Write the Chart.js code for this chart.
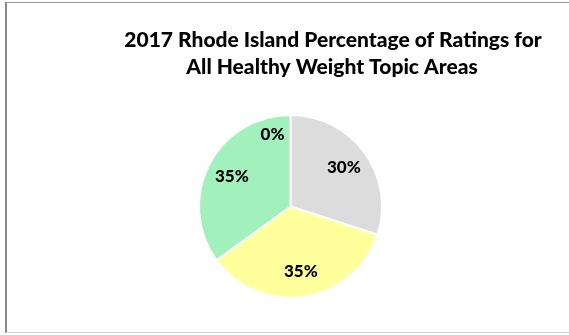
<!DOCTYPE html>
<html>
<head>
<meta charset="utf-8">
<script src="https://cdn.jsdelivr.net/npm/chart.js@4"></script>
<style>
  html, body { margin: 0; padding: 0; background: #fff; overflow: hidden; }
  body { width: 569px; height: 335px; position: relative; }
  #frame { position: absolute; left: 5px; top: 2px; width: 564px; height: 331px;
           border-left: 2px solid #8a8a8a; border-top: 1px solid #9a9a9a; border-bottom: 1px solid #d6d6d6; border-right: none; box-sizing: border-box; }
  #wrap { position: absolute; left: 0; top: 0; width: 569px; height: 335px; }
</style>
</head>
<body>
<div id="frame"></div>
<div id="wrap"><canvas id="c" width="569" height="335"></canvas></div>
<script>
const titleLines = ["2017 Rhode Island Percentage of Ratings for", "All Healthy Weight Topic Areas"];
const categories = ["Rating A", "Rating B", "Rating C", "Rating D"];
const values = [30, 35, 35, 0];
const sliceColors = ["#DCDCDC", "#FFFF9B", "#A2F0BC", "#C9C9C9"];

const titlePlugin = {
  id: 'manualTitle',
  afterDraw(chart) {
    const ctx = chart.ctx;
    ctx.save();
    ctx.fillStyle = '#000';
    ctx.font = '900 21px Lato';
    ctx.textAlign = 'center';
    ctx.textBaseline = 'alphabetic';
    ctx.fillText(titleLines[0], 333, 47);
    ctx.fillText(titleLines[1], 332, 74);
    ctx.restore();
  }
};

const labelPlugin = {
  id: 'sliceLabels',
  afterDatasetsDraw(chart) {
    const ctx = chart.ctx;
    const meta = chart.getDatasetMeta(0);
    const data = chart.data.datasets[0].data;
    const total = data.reduce((a, b) => a + b, 0);
    ctx.save();
    ctx.fillStyle = '#000';
    ctx.font = '900 17px Lato';
    ctx.textBaseline = 'middle';
    meta.data.forEach((arc, i) => {
      const p = arc.getProps(['x', 'y', 'startAngle', 'endAngle', 'outerRadius'], true);
      const mid = (p.startAngle + p.endAngle) / 2;
      const r = p.outerRadius * 0.72;
      const x = p.x + Math.cos(mid) * r;
      const y = p.y + Math.sin(mid) * r;
      const txt = Math.round(data[i] / total * 100) + '%';
      if (data[i] === 0) {
        ctx.textAlign = 'right';
        ctx.fillText(txt, x - 6, y - 6);
      } else {
        ctx.textAlign = 'center';
        ctx.fillText(txt, x, y);
      }
    });
    ctx.restore();
  }
};

new Chart(document.getElementById('c'), {
  type: 'pie',
  data: {
    labels: categories,
    datasets: [{
      data: values,
      backgroundColor: sliceColors,
      borderColor: '#ffffff',
      borderWidth: 2
    }]
  },
  options: {
    responsive: false,
    animation: false,
    layout: { padding: { left: 198, right: 186, top: 114, bottom: 36 } },
    plugins: {
      legend: { display: false },
      title: { display: false },
      tooltip: { enabled: false }
    }
  },
  plugins: [titlePlugin, labelPlugin]
});
</script>
</body>
</html>
